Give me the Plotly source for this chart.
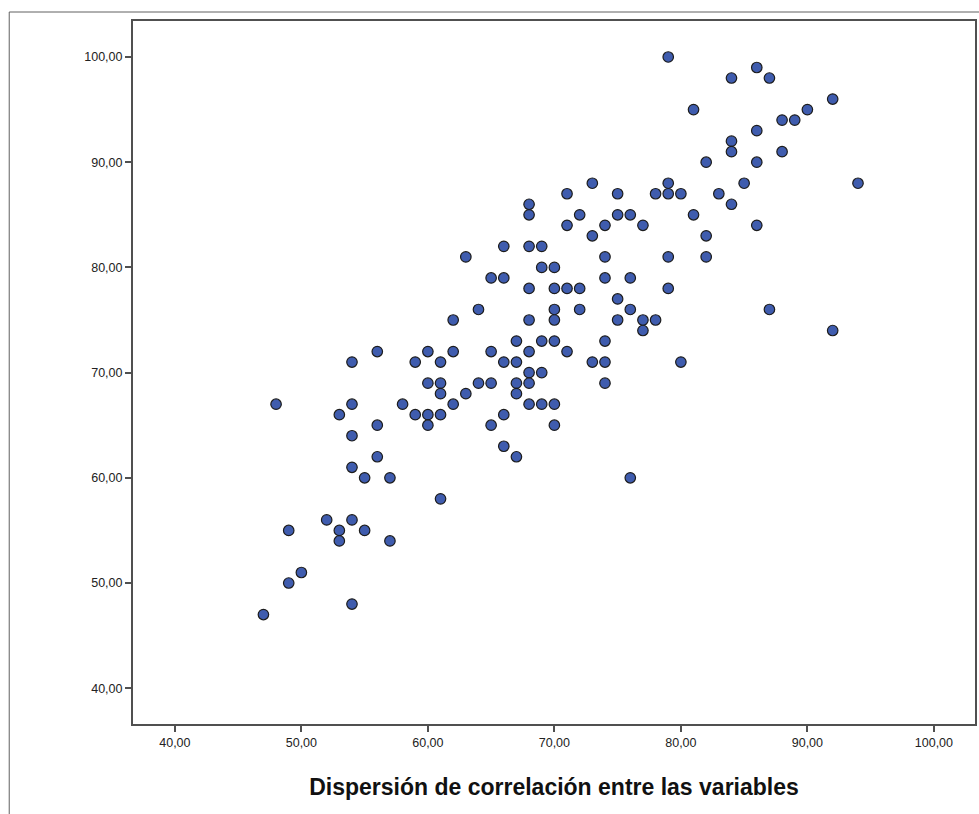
import plotly.graph_objects as go

# Data points (x, y)
x_vals = [
    56, 54, 60, 62, 59, 61, 60, 61, 61, 64, 63, 62, 48, 54, 53, 58, 59, 60, 61, 60,
    56, 54, 56, 54, 55, 57, 61, 52, 54, 49, 53, 55, 53, 57, 50, 49, 54, 47,
    73, 71, 75, 68, 68, 72, 71, 74, 75, 73, 66, 68, 69, 63, 74, 69, 70, 65, 66, 74,
    68, 70, 71, 72, 75, 64, 70, 72, 62, 68, 70, 75, 67, 69, 70, 74, 65, 68, 71, 66,
    67, 73, 74, 68, 69, 65, 67, 68, 74, 67, 68, 69, 70, 66, 65, 70, 66, 67,
    79, 86, 84, 87, 81, 92, 90, 88, 89, 86, 84, 84, 88, 82, 86, 79, 85, 94, 78, 79,
    80, 83, 84, 76, 81, 77, 86, 82, 79, 82, 76, 79, 76, 87, 77, 78, 77, 92, 80,
    76,
]
y_vals = [
    72, 71, 72, 72, 71, 71, 69, 69, 68, 69, 68, 67, 67, 67, 66, 67, 66, 66, 66, 65,
    65, 64, 62, 61, 60, 60, 58, 56, 56, 55, 55, 55, 54, 54, 51, 50, 48, 47,
    88, 87, 87, 86, 85, 85, 84, 84, 85, 83, 82, 82, 82, 81, 81, 80, 80, 79, 79, 79,
    78, 78, 78, 78, 77, 76, 76, 76, 75, 75, 75, 75, 73, 73, 73, 73, 72, 72, 72, 71,
    71, 71, 71, 70, 70, 69, 69, 69, 69, 68, 67, 67, 67, 66, 65, 65, 63, 62,
    100, 99, 98, 98, 95, 96, 95, 94, 94, 93, 92, 91, 91, 90, 90, 88, 88, 88, 87, 87,
    87, 87, 86, 85, 85, 84, 84, 83, 81, 81, 79, 78, 76, 76, 75, 75, 74, 74, 71,
    60,
]

x_title = "Dispersión de correlación entre las variables"
tick_values = [40, 50, 60, 70, 80, 90, 100]

fig = go.Figure()
fig.add_trace(go.Scatter(
    x=x_vals, y=y_vals, mode="markers",
    marker=dict(size=10.5, color="#3F5CAE", line=dict(width=1.2, color="#1c1c1c")),
    showlegend=False, hoverinfo="x+y",
))

axis_common = dict(
    showgrid=False, zeroline=False, showline=True, linewidth=2, linecolor="#505050",
    mirror=True, ticks="outside", ticklen=6, tickwidth=2, tickcolor="#505050",
    tickvals=tick_values, tickformat=".2f",
    tickfont=dict(family="Liberation Sans, Arial, sans-serif", size=12.5, color="#222222"),
)

fig.update_layout(
    width=979, height=814,
    margin=dict(l=133, r=2, t=21, b=90),
    paper_bgcolor="white", plot_bgcolor="white",
    separators=",.",
    xaxis=dict(range=[36.69, 103.25],
               title=dict(text=x_title, standoff=30,
                          font=dict(family="Liberation Sans, Arial, sans-serif", size=23,
                                    color="#111111", weight="bold")),
               **axis_common),
    yaxis=dict(range=[36.6, 103.42], **axis_common),
    shapes=[
        dict(type="line", xref="paper", yref="paper", x0=-0.147, x1=1.01, y0=1.0128, y1=1.0128,
             line=dict(color="#606060", width=1)),
        dict(type="line", xref="paper", yref="paper", x0=-0.147, x1=-0.147, y0=1.0128, y1=-0.2,
             line=dict(color="#606060", width=1)),
    ],
)

fig.write_html(
    "out.html",
    config={"displayModeBar": False},
    post_script="document.body.style.margin='0';document.body.style.overflow='hidden';",
)
